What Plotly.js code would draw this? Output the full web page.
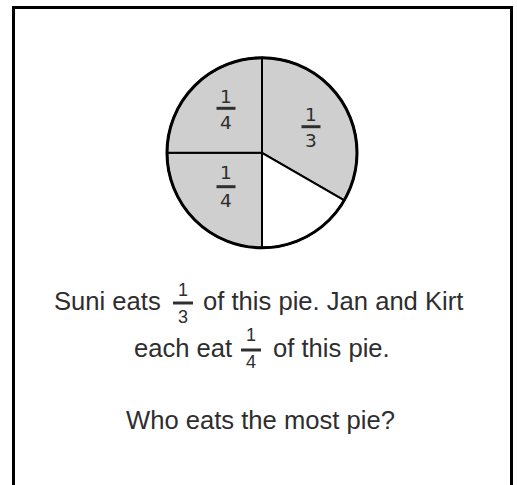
<!DOCTYPE html>
<html>
<head>
<meta charset="utf-8">
<script src="https://cdn.plot.ly/plotly-3.0.1.min.js"></script>
<style>
  html, body { margin: 0; padding: 0; background: #fff; }
  #chart { width: 517px; height: 485px; }
</style>
</head>
<body>
<div id="chart"></div>
<script>
// ---- data ----
const sliceNames = ['Suni', 'Left over', 'Jan', 'Kirt'];
const sliceNumerators = [1, 1, 1, 1];
const sliceDenominators = [3, 6, 4, 4];
const sliceShaded = [true, false, true, true];
const sliceLabelShown = [true, false, true, true];

const sentence1Before = 'Suni eats';
const sentence1After = 'of this pie. Jan and Kirt';
const sentence1Fraction = [1, 3];
const sentence2Before = 'each eat';
const sentence2After = 'of this pie.';
const sentence2Fraction = [1, 4];
const question = 'Who eats the most pie?';

// ---- layout helpers ----
const W = 517, H = 485;
const px = x => x / W;
const py = y => 1 - y / H;
const TEXT = '#2e2e2e';
const GRAY = '#cfcfcf';

const cx = 262, cy = 152.8, R = 95;

const values = sliceNumerators.map((n, i) => n / sliceDenominators[i]);
const colors = sliceShaded.map(s => s ? GRAY : '#ffffff');

const pie = {
  type: 'pie',
  values: values,
  labels: sliceNames,
  sort: false,
  direction: 'clockwise',
  rotation: 0,
  textinfo: 'none',
  hoverinfo: 'skip',
  showlegend: false,
  marker: { colors: colors, line: { color: '#000', width: 2 } },
  domain: { x: [px(cx - R), px(cx + R)], y: [py(cy + R), py(cy - R)] }
};

const annotations = [];
const shapes = [];

function ann(text, x, y, font, xanchor) {
  annotations.push({
    xref: 'paper', yref: 'paper', x: px(x), y: py(y),
    xanchor: xanchor || 'center', yanchor: 'middle',
    text: text, showarrow: false, borderpad: 0, borderwidth: 0,
    font: font
  });
}
function bar(x0, x1, y, w, color) {
  shapes.push({
    type: 'line', xref: 'paper', yref: 'paper',
    x0: px(x0), x1: px(x1), y0: py(y), y1: py(y),
    line: { color: color, width: w }
  });
}
function fraction(num, den, x, yNum, yBar, yDen, halfW, font, bw) {
  ann(String(num), x, yNum, font);
  bar(x - halfW, x + halfW, yBar, bw, TEXT);
  ann(String(den), x, yDen, font);
}

// pie slice labels
const pieFont = { family: 'DejaVu Sans, Verdana, sans-serif', size: 18.5, color: TEXT };
const pieLabelPos = [
  { x: 311, yn: 114.3, yb: 126.7, yd: 140.5 },
  null,
  { x: 226, yn: 172, yb: 186.7, yd: 200 },
  { x: 226, yn: 96.7, yb: 108.3, yd: 122.8 }
];
sliceNames.forEach((n, i) => {
  if (!sliceLabelShown[i]) return;
  const p = pieLabelPos[i];
  fraction(sliceNumerators[i], sliceDenominators[i], p.x, p.yn, p.yb, p.yd, 9.5, pieFont, 3);
});

// outer circle (thicker rim)
shapes.push({
  type: 'circle', xref: 'paper', yref: 'paper',
  x0: px(cx - R), x1: px(cx + R), y0: py(cy + R), y1: py(cy - R),
  line: { color: '#000', width: 3 }
});

// body text
const bodyFont = { family: 'Liberation Sans, Arial, sans-serif', size: 25.6, color: TEXT };
const fracFont = { family: 'Liberation Sans, Arial, sans-serif', size: 18, color: TEXT };

ann(sentence1Before, 161, 301, bodyFont, 'right');
fraction(sentence1Fraction[0], sentence1Fraction[1], 183, 289.5, 303, 316.5, 10, fracFont, 3);
ann(sentence1After, 203, 301, bodyFont, 'left');

ann(sentence2Before, 232, 348, bodyFont, 'right');
fraction(sentence2Fraction[0], sentence2Fraction[1], 251, 334.5, 350, 361.5, 10, fracFont, 3);
ann(sentence2After, 273, 348, bodyFont, 'left');

ann(question, 260, 420, bodyFont, 'center');

// frame
shapes.push({
  type: 'rect', xref: 'paper', yref: 'paper',
  x0: px(13.5), x1: px(511.5), y0: py(500), y1: py(7.5),
  line: { color: '#000', width: 3 }, fillcolor: 'rgba(0,0,0,0)'
});

const layout = {
  width: W, height: H,
  margin: { l: 0, r: 0, t: 0, b: 0 },
  paper_bgcolor: '#fff', plot_bgcolor: '#fff',
  showlegend: false,
  annotations: annotations,
  shapes: shapes
};

Plotly.newPlot('chart', [pie], layout, { displayModeBar: false, staticPlot: true });
</script>
</body>
</html>
